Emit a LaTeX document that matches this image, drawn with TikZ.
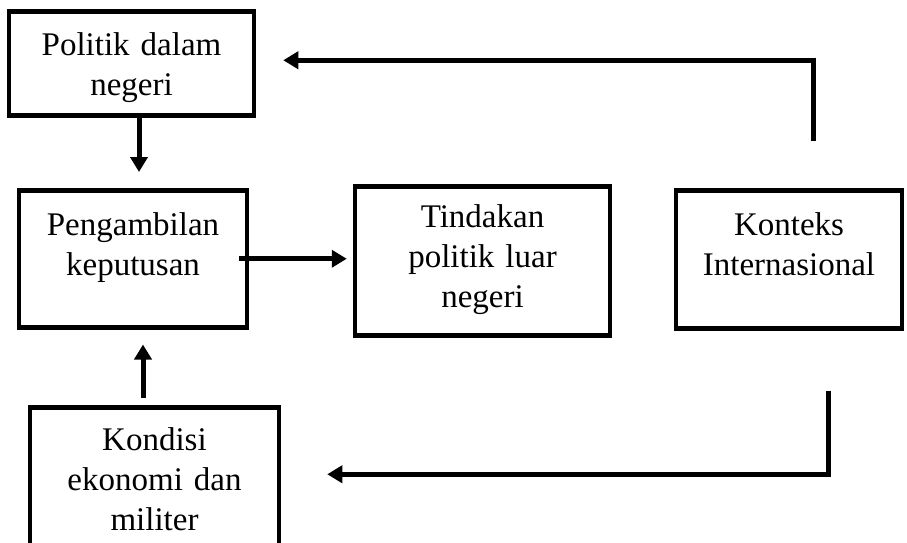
\documentclass[tikz,border=0pt]{standalone}
\usepackage{fontspec}
\setmainfont{Liberation Serif}
\usetikzlibrary{arrows.meta}

\tikzset{
  kotak/.style={draw, line width=4.5pt, align=center, inner sep=0pt,
    anchor=north, font=\fontsize{33}{40}\selectfont},
  panah/.style={line width=5pt, -{Triangle[length=15pt,width=17pt]}},
}

\begin{document}
\begin{tikzpicture}[x=1pt,y=-1pt]
  \useasboundingbox (0,0) rectangle (907,542);
  \node[kotak, text width=245pt, text height=44pt, text depth=60pt] (pol) at (131.5,9) {Politik dalam\\negeri};
  \node[kotak, text width=228pt, text height=45pt, text depth=92pt] (peng) at (133,188) {Pengambilan\\keputusan};
  \node[kotak, text width=255pt, text height=41pt, text depth=108pt] (tind) at (482.5,184) {Tindakan\\politik luar\\negeri};
  \node[kotak, text width=226pt, text height=45pt, text depth=93pt] (kont) at (789,188) {Konteks\\Internasional};
  \node[kotak, text width=249pt, text height=43pt, text depth=117pt] (kond) at (154.5,405) {Kondisi\\ekonomi dan\\militer};
  \draw[panah] ([xshift=7.5pt]pol.south) -- ([xshift=6pt,yshift=16pt]peng.north);
  \draw[panah] ([xshift=-10pt]peng.east) -- ([xshift=-6pt,yshift=2pt]tind.west);
  \draw[panah] ([xshift=-11.5pt,yshift=7pt]kond.north) -- ([xshift=10pt,yshift=-15pt]peng.south);
  \draw[panah] ([xshift=24pt,yshift=47pt]kont.north) |- ([xshift=27pt,yshift=3pt]pol.east);
  \draw[panah] ([xshift=39pt,yshift=-60pt]kont.south) |- ([xshift=46pt,yshift=13pt]kond.east);
\end{tikzpicture}
\end{document}
